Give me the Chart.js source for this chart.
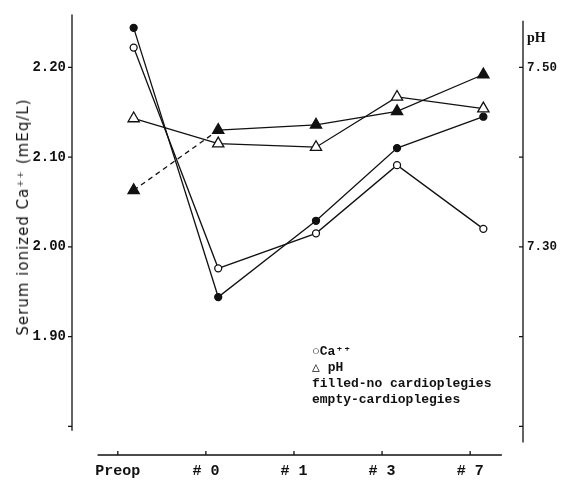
<!DOCTYPE html>
<html>
<head>
<meta charset="utf-8">
<script src="https://cdn.jsdelivr.net/npm/chart.js@4"></script>
<style>
  html, body { margin: 0; padding: 0; background: #fff; }
  #wrap { position: relative; width: 566px; height: 483px; }
  #legend {
    position: absolute; left: 312px; top: 344px;
    font: bold 13px "Liberation Mono", monospace; line-height: 16px; color: #111;
    white-space: pre;
  }
  #ytitle {
    position: absolute; left: 23px; top: 217px;
    transform: translate(-50%, -50%) rotate(-90deg);
    font: 15px "DejaVu Sans", sans-serif; letter-spacing: 1px; color: #111;
    white-space: nowrap;
  }
</style>
</head>
<body>
<div id="wrap">
  <canvas id="chart" width="566" height="483"></canvas>
  <div id="ytitle">Serum ionized Ca⁺⁺ (mEq/L)</div>
  <div id="legend">○Ca⁺⁺
△ pH
filled-no cardioplegies
empty-cardioplegies</div>
</div>
<script>
// time points
const categories = ['Preop', '# 0', '# 1', '# 3', '# 7'];
const pointX = [0.18, 1.14, 2.25, 3.17, 4.15];

// serum ionized Ca++ (mEq/L)
const caNoCardioplegia = [2.244, 1.944, 2.029, 2.110, 2.145];
const caCardioplegia = [2.222, 1.976, 2.015, 2.091, 2.020];

// pH
const phNoCardioplegia = [7.363, 7.430, 7.436, 7.451, 7.492];
const phCardioplegia = [7.443, 7.415, 7.411, 7.467, 7.454];

const caTicks = [1.80, 1.90, 2.00, 2.10, 2.20];
const caTickLabels = ['', '1.90', '2.00', '2.10', '2.20'];
const phTicks = [7.10, 7.20, 7.30, 7.40, 7.50];
const phTickLabels = ['', '', '7.30', '', '7.50'];

const ink = '#111';
const tickFont = { family: '"Liberation Mono", monospace', size: 14, weight: 'bold' };

function points(values) {
  return values.map((v, i) => ({ x: pointX[i], y: v }));
}

// axis lines drawn detached, like the original figure
const axisLines = {
  id: 'axisLines',
  afterDraw(chart) {
    const { ctx, chartArea, scales: { x, y, y1 } } = chart;
    ctx.save();
    ctx.strokeStyle = ink;
    ctx.lineWidth = 1.3;
    ctx.beginPath();
    // left axis
    const lx = chartArea.left;
    ctx.moveTo(lx, chartArea.top);
    ctx.lineTo(lx, y.getPixelForValue(1.795));
    caTicks.forEach(v => {
      const py = y.getPixelForValue(v);
      ctx.moveTo(lx - 4, py);
      ctx.lineTo(lx, py);
    });
    // right axis
    const rx = chartArea.right;
    ctx.moveTo(rx, y1.getPixelForValue(7.552));
    ctx.lineTo(rx, y1.getPixelForValue(7.082));
    phTicks.forEach(v => {
      const py = y1.getPixelForValue(v);
      ctx.moveTo(rx - 4, py);
      ctx.lineTo(rx, py);
    });
    // bottom axis
    const by = chartArea.bottom;
    ctx.moveTo(x.getPixelForValue(-0.23), by);
    ctx.lineTo(x.getPixelForValue(4.36), by);
    categories.forEach((c, i) => {
      const px = x.getPixelForValue(i);
      ctx.moveTo(px, by - 4);
      ctx.lineTo(px, by);
    });
    ctx.stroke();
    // pH title over the right axis
    ctx.fillStyle = ink;
    ctx.font = 'bold 14px "Liberation Serif", serif';
    ctx.textBaseline = 'middle';
    ctx.fillText('pH', rx + 4, y1.getPixelForValue(7.532));
    ctx.restore();
  }
};

const lineBase = {
  borderColor: ink,
  borderWidth: 1.3,
  tension: 0,
  pointBorderColor: ink,
  pointBorderWidth: 1.3
};

const noGrid = { display: false, drawTicks: false };

new Chart(document.getElementById('chart'), {
  type: 'line',
  data: {
    datasets: [
      {
        ...lineBase,
        label: 'Ca no cardioplegia',
        yAxisID: 'y',
        data: points(caNoCardioplegia),
        pointStyle: 'circle',
        pointRadius: 3.5,
        pointBackgroundColor: ink
      },
      {
        ...lineBase,
        label: 'Ca cardioplegia',
        yAxisID: 'y',
        data: points(caCardioplegia),
        pointStyle: 'circle',
        pointRadius: 3.5,
        pointBackgroundColor: '#fff'
      },
      {
        ...lineBase,
        label: 'pH no cardioplegia',
        yAxisID: 'y1',
        data: points(phNoCardioplegia),
        pointStyle: 'triangle',
        pointRadius: 6.5,
        pointBackgroundColor: ink,
        segment: { borderDash: c => c.p0DataIndex === 0 ? [5, 4] : undefined }
      },
      {
        ...lineBase,
        label: 'pH cardioplegia',
        yAxisID: 'y1',
        data: points(phCardioplegia),
        pointStyle: 'triangle',
        pointRadius: 6.5,
        pointBackgroundColor: '#fff'
      }
    ]
  },
  options: {
    responsive: false,
    animation: false,
    layout: { padding: { top: 8, left: 0, right: 0, bottom: 0 } },
    plugins: { legend: { display: false }, tooltip: { enabled: false } },
    scales: {
      x: {
        type: 'linear',
        min: -0.52,
        max: 4.60,
        grid: noGrid,
        border: { display: false },
        afterBuildTicks: s => { s.ticks = categories.map((c, i) => ({ value: i })); },
        afterFit: s => { s.height = 28; },
        ticks: {
          autoSkip: false,
          maxRotation: 0,
          padding: 7,
          color: ink,
          font: { ...tickFont, size: 15 },
          callback: v => categories[v]
        }
      },
      y: {
        position: 'left',
        min: 1.768,
        max: 2.259,
        grid: noGrid,
        border: { display: false },
        afterBuildTicks: s => { s.ticks = caTicks.map(v => ({ value: v })); },
        afterFit: s => { s.width = 72; },
        ticks: {
          padding: 6,
          color: ink,
          font: tickFont,
          callback: (v, i) => caTickLabels[i]
        }
      },
      y1: {
        position: 'right',
        min: 7.068,
        max: 7.559,
        grid: noGrid,
        border: { display: false },
        afterBuildTicks: s => { s.ticks = phTicks.map(v => ({ value: v })); },
        afterFit: s => { s.width = 43; },
        ticks: {
          padding: 4,
          color: ink,
          font: { ...tickFont, size: 12.5 },
          callback: (v, i) => phTickLabels[i]
        }
      }
    }
  },
  plugins: [axisLines]
});
</script>
</body>
</html>
